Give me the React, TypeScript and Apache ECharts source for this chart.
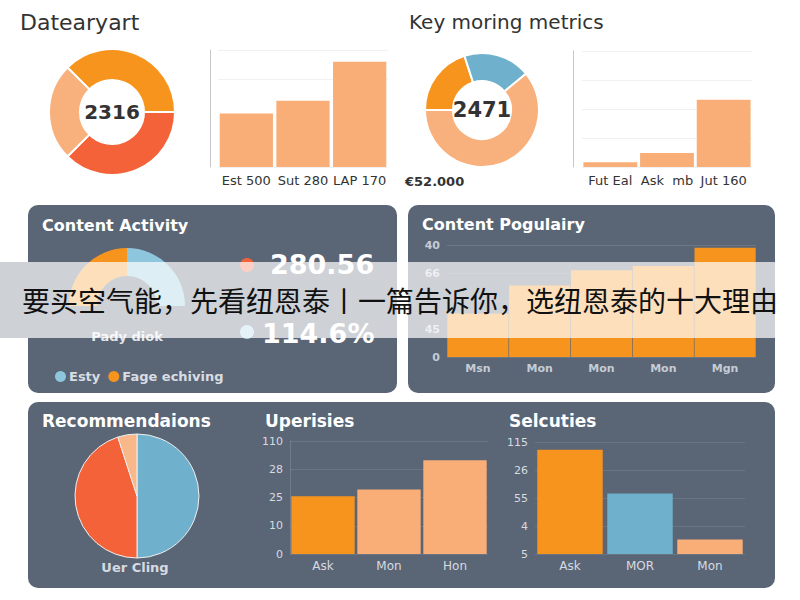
import React, { useEffect, useRef } from "react";
import * as echarts from "echarts";

// ---- data ----
const topLeftDonutNames = ["Top", "Bottom", "Left"];
const topLeftDonutValues = [3, 3, 2];
const topLeftCenterLabel = "2316";
const topLeftBarCats = ["Est 500", "Sut 280", "LAP 170"];
const topLeftBarValues = [55, 68, 108];

const topRightDonutNames = ["Orange", "Blue", "Peach"];
const topRightDonutValues = [20, 19, 61];
const topRightCenterLabel = "2471";
const topRightBarCats = ["Fut Eal", "Ask  mb", "Jut 160"];
const topRightBarValues = [4, 12, 58];
const topRightNote = "€52.000";

const activityNames = ["Fage echiving", "Esty"];
const activityValues = [50, 50];
const activityLegendOrder = ["Esty", "Fage echiving"];
const activityMetrics = ["280.56", "114.6%"];
const activityLabel = "Pady diok";

const popularityCats = ["Msn", "Mon", "Mon", "Mon", "Mgn"];
const popularityValues = [31, 51, 62, 65, 78];
const popularityTicks = ["0", "45", "", "66", "40"];

const recoNames = ["Blue", "Red", "Peach"];
const recoValues = [50, 45, 5];
const recoLabel = "Uer Cling";

const upCats = ["Ask", "Mon", "Hon"];
const upValues = [51, 57, 83];
const upTicks = ["0", "10", "25", "28", "110"];

const selCats = ["Ask", "MOR", "Mon"];
const selValues = [93, 54, 13];
const selTicks = ["5", "4", "55", "26", "115"];

const bannerText = "要买空气能，先看纽恩泰丨一篇告诉你，选纽恩泰的十大理由";

// ---- styles ----
const ORANGE = "#F7941E";
const RED = "#F4623A";
const PEACH = "#F8B07C";
const BAR_PEACH = "#F9AE78";
const BLUE = "#6FB0CC";
const LIGHT_BLUE = "#8EC6DE";
const PANEL = "#5A6575";
const LIGHT_TXT = "#D6DBE1";
const FONT = "DejaVu Sans";

const topLeftDonutColors = [ORANGE, RED, PEACH];
const topRightDonutColors = [ORANGE, BLUE, PEACH];
const activityColors = [ORANGE, LIGHT_BLUE];
const recoColors = [BLUE, RED, "#F8B88A"];
const upColors = [ORANGE, BAR_PEACH, BAR_PEACH];
const selColors = [ORANGE, BLUE, BAR_PEACH];

function pieData(names: string[], values: number[], colors: string[]) {
  return values.map((v, i) => ({ name: names[i], value: v, itemStyle: { color: colors[i] } }));
}
function barData(values: number[], colors: string[]) {
  return values.map((v, i) => ({ value: v, itemStyle: { color: colors[i] } }));
}

function lightXAxis(grid: number, data: string[], color: string, size: number, bold: boolean, margin: number) {
  return {
    gridIndex: grid,
    type: "category",
    data,
    axisLine: { show: false },
    axisTick: { show: false },
    axisLabel: { interval: 0, color, fontSize: size, fontWeight: bold ? "bold" : "normal", margin, fontFamily: FONT },
    z: 3,
  };
}

function txt(x: number, y: number, text: string, size: number, fill: string, opts: any = {}) {
  return {
    type: "text",
    x,
    y,
    z: opts.z ?? 6,
    style: {
      text,
      fontSize: size,
      fontFamily: opts.family ?? FONT,
      fontWeight: opts.bold ? "bold" : "normal",
      fill,
      align: opts.align ?? "left",
      verticalAlign: "middle",
    },
  };
}

function buildOption(): any {
  const pieBase = {
    type: "pie",
    silent: true,
    label: { show: false },
    labelLine: { show: false },
    emphasis: { disabled: true },
    z: 4,
  };
  return {
    animation: false,
    backgroundColor: "#ffffff",
    textStyle: { fontFamily: FONT },
    legend: {
      data: activityLegendOrder,
      left: 50,
      top: 365,
      icon: "circle",
      itemWidth: 11,
      itemHeight: 11,
      itemGap: 8,
      selectedMode: false,
      textStyle: { color: "#D8DDE3", fontSize: 13, fontWeight: "bold", fontFamily: FONT, padding: [0, 0, 0, -2] },
      z: 6,
    },
    grid: [
      { left: 218, right: 412, top: 50, bottom: 433 },
      { left: 582, right: 48, top: 51, bottom: 433 },
      { left: 447, right: 44, top: 245, bottom: 243 },
      { left: 290, right: 312, top: 441, bottom: 46 },
      { left: 535, right: 55, top: 442, bottom: 46 },
    ],
    xAxis: [
      lightXAxis(0, topLeftBarCats, "#333333", 13, false, 7),
      lightXAxis(1, topRightBarCats, "#333333", 13, false, 7),
      lightXAxis(2, popularityCats, "#C5CCD5", 11, true, 6),
      lightXAxis(3, upCats, LIGHT_TXT, 12, false, 6),
      lightXAxis(4, selCats, LIGHT_TXT, 12, false, 6),
    ],
    yAxis: [
      {
        gridIndex: 0, type: "value", min: 0, max: 120, interval: 90, offset: 8,
        axisLine: { show: true, lineStyle: { color: "#C8C8C8" } },
        axisTick: { show: false }, axisLabel: { show: false },
        splitLine: { lineStyle: { color: "#F1F1F1" } }, z: 3,
      },
      {
        gridIndex: 1, type: "value", min: 0, max: 100, interval: 25, offset: 9,
        axisLine: { show: true, lineStyle: { color: "#C8C8C8" } },
        axisTick: { show: false }, axisLabel: { show: false },
        splitLine: { lineStyle: { color: "#F1F1F1" } }, z: 3,
      },
      {
        gridIndex: 2, type: "value", min: 0, max: 80, interval: 20,
        axisLine: { show: false }, axisTick: { show: false },
        axisLabel: {
          color: "#C5CCD5", fontSize: 11, fontWeight: "bold", margin: 7,
          formatter: (v: number) => popularityTicks[Math.round(v / 20)] ?? "",
        },
        splitLine: { lineStyle: { color: "rgba(255,255,255,0.12)" } }, z: 3,
      },
      {
        gridIndex: 3, type: "value", min: 0, max: 100, interval: 25,
        axisLine: { show: true, lineStyle: { color: "rgba(255,255,255,0.15)" } },
        axisTick: { show: false },
        axisLabel: {
          color: LIGHT_TXT, fontSize: 11, margin: 7,
          formatter: (v: number) => upTicks[Math.round(v / 25)] ?? "",
        },
        splitLine: { lineStyle: { color: "rgba(255,255,255,0.1)" } }, z: 3,
      },
      {
        gridIndex: 4, type: "value", min: 0, max: 100, interval: 25,
        axisLine: { show: false }, axisTick: { show: false },
        axisLabel: {
          color: LIGHT_TXT, fontSize: 11, margin: 7,
          formatter: (v: number) => selTicks[Math.round(v / 25)] ?? "",
        },
        splitLine: { lineStyle: { color: "rgba(255,255,255,0.1)" } }, z: 3,
      },
    ],
    series: [
      {
        ...pieBase,
        center: [112, 112],
        radius: [32, 63],
        startAngle: 135,
        itemStyle: { borderColor: "#ffffff", borderWidth: 2 },
        data: pieData(topLeftDonutNames, topLeftDonutValues, topLeftDonutColors),
      },
      {
        ...pieBase,
        center: [482, 110],
        radius: [29, 57],
        startAngle: 180,
        itemStyle: { borderColor: "#ffffff", borderWidth: 2 },
        data: pieData(topRightDonutNames, topRightDonutValues, topRightDonutColors),
      },
      {
        ...pieBase,
        center: [127, 306],
        radius: [30, 58],
        startAngle: 180,
        endAngle: 0,
        data: pieData(activityNames, activityValues, activityColors),
      },
      {
        ...pieBase,
        center: [137, 496],
        radius: [0, 62],
        startAngle: 90,
        itemStyle: { borderColor: "#EEF0F2", borderWidth: 1 },
        data: pieData(recoNames, recoValues, recoColors),
      },
      {
        type: "bar", xAxisIndex: 0, yAxisIndex: 0, barCategoryGap: "6%", silent: true, z: 4,
        itemStyle: { color: BAR_PEACH }, data: topLeftBarValues,
      },
      {
        type: "bar", xAxisIndex: 1, yAxisIndex: 1, barCategoryGap: "5%", silent: true, z: 4,
        itemStyle: { color: BAR_PEACH }, data: topRightBarValues,
      },
      {
        type: "bar", xAxisIndex: 2, yAxisIndex: 2, barCategoryGap: "1%", silent: true, z: 4,
        itemStyle: { color: ORANGE }, data: popularityValues,
      },
      {
        type: "bar", xAxisIndex: 3, yAxisIndex: 3, barCategoryGap: "4%", silent: true, z: 4,
        data: barData(upValues, upColors),
      },
      {
        type: "bar", xAxisIndex: 4, yAxisIndex: 4, barCategoryGap: "6.5%", silent: true, z: 4,
        data: barData(selValues, selColors),
      },
    ],
    graphic: [
      // panels
      { type: "rect", z: 1, shape: { x: 28, y: 205, width: 369, height: 188, r: 10 }, style: { fill: PANEL } },
      { type: "rect", z: 1, shape: { x: 408, y: 205, width: 367, height: 188, r: 10 }, style: { fill: PANEL } },
      { type: "rect", z: 1, shape: { x: 28, y: 402, width: 747, height: 186, r: 10 }, style: { fill: PANEL } },
      { type: "rect", z: 1, shape: { x: 0, y: 262, width: 28, height: 76 }, style: { fill: PANEL } },
      // top titles & labels
      txt(20, 22, "Datearyart", 22, "#333333"),
      txt(409, 22, "Key moring metrics", 20, "#333333"),
      txt(112, 112, topLeftCenterLabel, 20, "#333333", { bold: true, align: "center" }),
      txt(482, 110, topRightCenterLabel, 21, "#333333", { bold: true, align: "center" }),
      txt(405, 181, topRightNote, 13, "#333333", { bold: true }),
      // panel titles
      txt(42, 225, "Content Activity", 16, "#ffffff", { bold: true }),
      txt(422, 224, "Content Pogulairy", 16, "#ffffff", { bold: true }),
      txt(42, 421, "Recommendaions", 17, "#ffffff", { bold: true }),
      txt(265, 421, "Uperisies", 17, "#ffffff", { bold: true }),
      txt(509, 421, "Selcuties", 17, "#ffffff", { bold: true }),
      // activity metrics
      { type: "circle", z: 6, shape: { cx: 247, cy: 265, r: 7 }, style: { fill: RED } },
      { type: "circle", z: 6, shape: { cx: 247, cy: 332, r: 7 }, style: { fill: "#A9D6E8" } },
      txt(270, 264, activityMetrics[0], 27, "#ffffff", { bold: true }),
      txt(262, 333, activityMetrics[1], 27, "#ffffff", { bold: true }),
      txt(127, 336, activityLabel, 13, "#E3E7EC", { bold: true, align: "center" }),
      txt(135, 567, recoLabel, 13, LIGHT_TXT, { bold: true, align: "center" }),
      // banner
      { type: "rect", z: 50, shape: { x: 0, y: 262, width: 775, height: 76 }, style: { fill: "rgba(255,255,255,0.7)" } },
      txt(400, 300, bannerText, 28, "#111111", { align: "center", family: "Noto Sans CJK SC", z: 51 }),
    ],
  };
}

export default function App() {
  const ref = useRef<HTMLDivElement>(null);
  useEffect(() => {
    const chart = echarts.init(ref.current as HTMLDivElement, null, { renderer: "svg" });
    chart.setOption(buildOption());
    return () => chart.dispose();
  }, []);
  return <div ref={ref} style={{ position: "absolute", left: 0, top: 0, width: 800, height: 600 }} />;
}
